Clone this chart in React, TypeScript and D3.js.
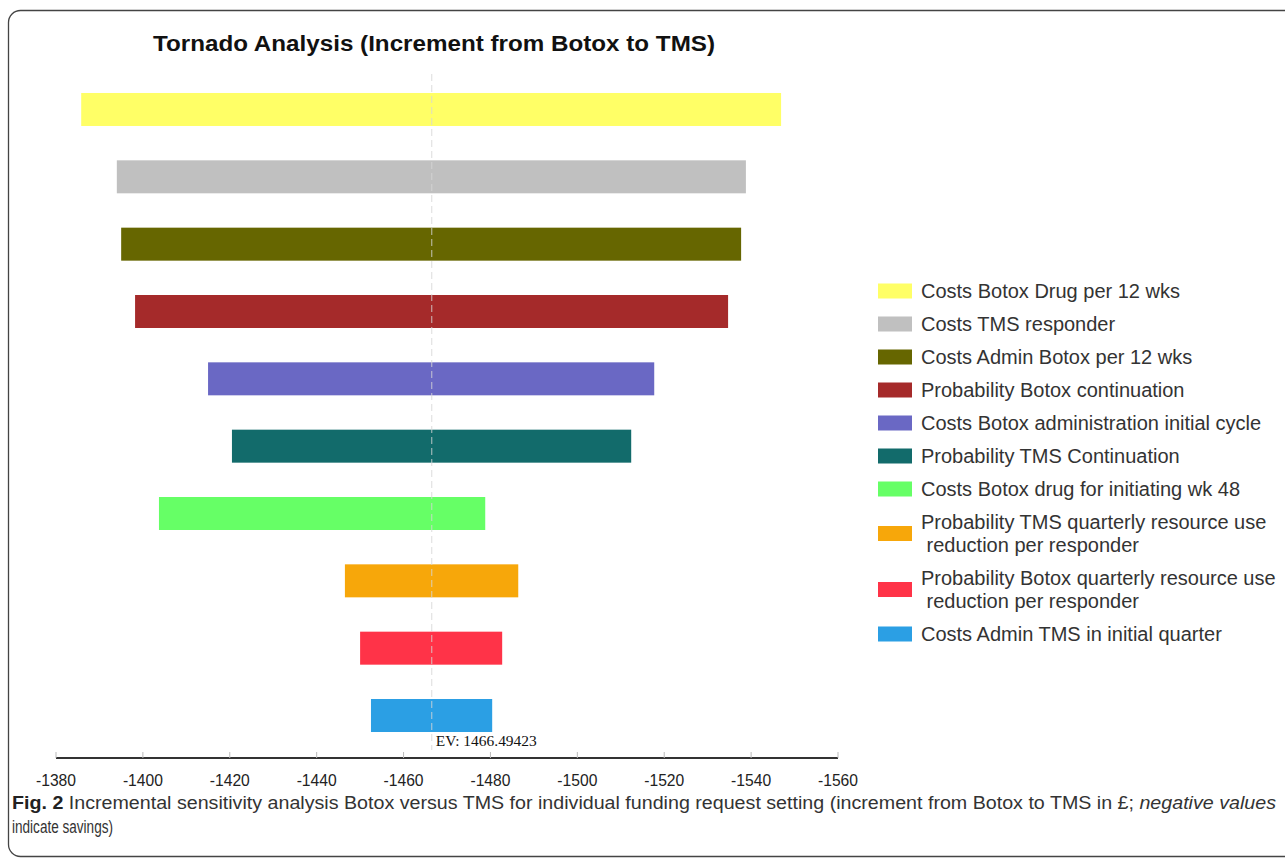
import * as d3 from "d3"

const factors = [
  ["Costs Botox Drug per 12 wks"],
  ["Costs TMS responder"],
  ["Costs Admin Botox per 12 wks"],
  ["Probability Botox continuation"],
  ["Costs Botox administration initial cycle"],
  ["Probability TMS Continuation"],
  ["Costs Botox drug for initiating wk 48"],
  ["Probability TMS quarterly resource use", " reduction per responder"],
  ["Probability Botox quarterly resource use", " reduction per responder"],
  ["Costs Admin TMS in initial quarter"],
]
const lowValues = [-1385.8, -1394.0, -1395.0, -1398.2, -1415.0, -1420.5, -1403.7, -1446.5, -1450.0, -1452.5]
const highValues = [-1546.9, -1538.8, -1537.7, -1534.7, -1517.7, -1512.4, -1478.8, -1486.4, -1482.7, -1480.4]
const barColors = [
  "#ffff66", "#c0c0c0", "#666600", "#a52a2a", "#6a68c4",
  "#126b6b", "#66ff66", "#f7a70a", "#ff3348", "#2b9fe4",
]
const tickValues = [-1380, -1400, -1420, -1440, -1460, -1480, -1500, -1520, -1540, -1560]
const expectedValue = -1466.49423

const W = 1285
const H = 858

export default function App() {
  const x = d3.scaleLinear().domain([-1380, -1560]).range([56, 838])
  const y = d3
    .scaleBand<number>()
    .domain(d3.range(factors.length))
    .range([60, 765])
    .paddingInner(0.51)
    .paddingOuter(0.49)
  const axisY = 758
  const evX = x(expectedValue)

  // legend layout: single rows advance ~33px, wrapped lines sit 23px apart
  let cursor = 291
  const legendRows = factors.map((lines) => {
    const first = cursor
    const last = first + (lines.length - 1) * 23
    cursor = last + 33
    return { lines, first, mid: (first + last) / 2 }
  })

  return (
    <svg
      width={W}
      height={H}
      style={{ position: "absolute", left: 0, top: 0, background: "#fff" }}
      fontFamily="'Liberation Sans', Arial, sans-serif"
    >
      <rect x={8.5} y={10.5} width={1320} height={846} rx={12} fill="none" stroke="#444" strokeWidth={1.3} />

      <text
        x={434}
        y={51}
        textAnchor="middle"
        fontSize={22}
        fontWeight="bold"
        fill="#111"
        textLength={562}
        lengthAdjust="spacingAndGlyphs"
      >
        Tornado Analysis (Increment from Botox to TMS)
      </text>

      {lowValues.map((lo, i) => (
        <rect
          key={i}
          x={Math.min(x(lo), x(highValues[i]))}
          y={y(i)}
          width={Math.abs(x(highValues[i]) - x(lo))}
          height={y.bandwidth()}
          fill={barColors[i]}
        />
      ))}

      <line
        x1={evX}
        x2={evX}
        y1={74}
        y2={750}
        stroke="#d6d6d6"
        strokeOpacity={0.85}
        strokeWidth={1}
        strokeDasharray="7,4"
      />
      <text
        x={evX + 4}
        y={746}
        fontFamily="'Liberation Serif', 'Times New Roman', serif"
        fontSize={15}
        fill="#111"
        textLength={101}
        lengthAdjust="spacingAndGlyphs"
      >
        EV: {(-expectedValue).toFixed(5)}
      </text>

      <line x1={x(-1380)} x2={x(-1560)} y1={axisY} y2={axisY} stroke="#333" strokeWidth={2} />
      {tickValues.map((t) => (
        <g key={t} transform={`translate(${x(t)},0)`}>
          <line y1={axisY - 6} y2={axisY} stroke="#bbb" strokeWidth={1} />
          <text y={786} textAnchor="middle" fontSize={16.5} fill="#222" textLength={40} lengthAdjust="spacingAndGlyphs">
            {t}
          </text>
        </g>
      ))}

      {legendRows.map((row, i) => (
        <g key={i}>
          <rect x={878} y={row.mid - 7.5} width={34} height={15} fill={barColors[i]} />
          {row.lines.map((line, j) => (
            <text key={j} x={921} y={row.first + j * 23 + 7} fontSize={20} fill="#333" style={{ whiteSpace: "pre" }}>
              {line}
            </text>
          ))}
        </g>
      ))}

      <text x={12} y={809} fontSize={17.5} fill="#333" textLength={1264} lengthAdjust="spacingAndGlyphs">
        <tspan fontWeight="bold" fill="#222">Fig. 2</tspan>
        <tspan>  Incremental sensitivity analysis Botox versus TMS for individual funding request setting (increment from Botox to TMS in £; </tspan>
        <tspan fontStyle="italic">negative values</tspan>
      </text>
      <text x={12} y={833} fontSize={17.5} fill="#333" textLength={101} lengthAdjust="spacingAndGlyphs">
        indicate savings)
      </text>
    </svg>
  )
}
